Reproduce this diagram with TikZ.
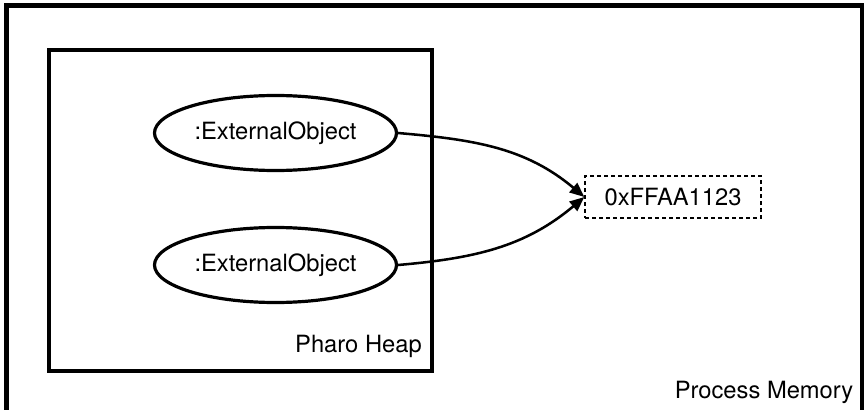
\documentclass[tikz,border=0pt]{standalone}
\usepackage{fontspec}
\setmainfont{TeX Gyre Heros}
\usetikzlibrary{positioning,arrows.meta,shapes.geometric}

\begin{document}
\begin{tikzpicture}[
    x=0.75pt, y=-0.75pt,
    >=Triangle,
    every node/.style={font=\fontsize{17.8}{21}\selectfont},
    memframe/.style={draw, line width=3.75pt},
    heapbox/.style={
        draw, line width=3pt, minimum width=286.9pt, minimum height=241.1pt,
        inner sep=0pt
    },
    objnode/.style={
        draw, ellipse, line width=2.4pt, minimum width=181.5pt,
        minimum height=56.25pt, inner sep=0pt
    },
    addrbox/.style={
        draw, dash pattern=on 3pt off 2.25pt, line width=0.9pt,
        minimum width=132pt, minimum height=31.5pt, inner sep=0pt
    },
    ref/.style={->, line width=1.9pt, >={Triangle[length=11pt, width=9pt]}},
]
\useasboundingbox (0,0) rectangle (864,410);
\clip (0,0) rectangle (864,410);

% === Outer: Process Memory ===
\draw[memframe] (6.5,6) rectangle (862,440);
\node[anchor=east] (memlabel) at (858,392) {Process Memory};

% === Inner: Pharo Heap ===
\node[heapbox] (heap) at (240.25,210.75) {};
\node[anchor=south east, inner sep=0pt] (heaplabel) at (422,358) {Pharo Heap};

% === Objects ===
\node[objnode] (obj1) at (275.5,133) {:ExternalObject};
\node[objnode] (obj2) at (275.5,265) {:ExternalObject};

% === Address ===
\node[addrbox] (addr) at (673,197) {0xFFAA1123};

% References
\draw[ref] (obj1.east) to[out=-5, in=140] (addr.west);
\draw[ref] (obj2.east) to[out=5, in=-140] (addr.west);

\end{tikzpicture}
\end{document}
